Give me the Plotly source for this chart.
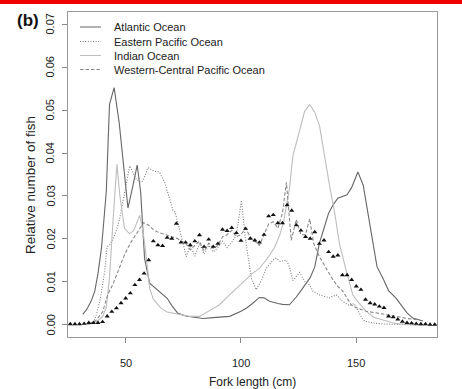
import plotly.graph_objects as go

# Length-frequency curves by ocean (fork length in cm, relative number of fish)
atl_x = [31.4, 33, 35, 36.6, 38, 39.5, 40.5, 41.6, 43, 45, 47.2, 48.7, 51, 53, 55, 56.5, 58.2, 60.4,
         63, 65, 68, 70, 72.5, 76, 80, 83.5, 88, 95.1, 100, 102.3, 105, 108, 110, 112.4, 116, 118,
         121, 124, 126, 128, 130, 132, 134, 136, 138, 140, 142, 144, 146, 148, 150.7, 153, 155, 157,
         159, 161.5, 164, 167.3, 170, 172, 174.5, 176.5, 178.9]
atl_y = [0.0025, 0.0035, 0.0055, 0.0078, 0.012, 0.0178, 0.024, 0.031, 0.0513, 0.0552, 0.047, 0.0393,
         0.0272, 0.032, 0.0372, 0.031, 0.0155, 0.0097, 0.0085, 0.0078, 0.0062, 0.0045, 0.0028, 0.0021,
         0.0017, 0.0015, 0.0017, 0.002, 0.0032, 0.0039, 0.005, 0.0064, 0.0063, 0.0055, 0.005, 0.0048,
         0.0047, 0.0065, 0.008, 0.0095, 0.011, 0.0135, 0.019, 0.0225, 0.026, 0.028, 0.0295, 0.0299,
         0.0303, 0.032, 0.0356, 0.0325, 0.026, 0.019, 0.0135, 0.0109, 0.008, 0.0062, 0.0042, 0.0028,
         0.0016, 0.0012, 0.0009]

ep_x = [36, 37.3, 39, 40.9, 41.9, 43, 44.5, 46, 47.4, 48.7, 49.6, 51.7, 53, 54.5, 56.1, 57.5, 59.7,
        61.8, 64.7, 66.9, 69.1, 70.5, 71.5, 72.7, 74, 75.6, 76.3, 78, 80, 82, 84, 86, 88, 90, 92, 94,
        96, 98, 100.2, 101.9, 104.5, 106.6, 109, 111, 113.9, 115.3, 117, 119.7, 121, 122.5, 125.4,
        128, 129.8, 131.2, 134, 138.4, 141.3, 144, 147.1, 149, 150.5, 152.9, 154.3, 158, 163, 170, 177]
ep_y = [0.0005, 0.0024, 0.006, 0.0124, 0.0182, 0.0185, 0.020, 0.022, 0.0247, 0.029, 0.0309, 0.037,
        0.0355, 0.034, 0.0332, 0.0335, 0.0366, 0.0359, 0.0355, 0.0332, 0.0293, 0.0266, 0.0262, 0.0236,
        0.021, 0.0178, 0.0159, 0.0185, 0.016, 0.019, 0.0165, 0.0185, 0.017, 0.018, 0.0195, 0.018,
        0.0192, 0.021, 0.029, 0.0201, 0.0109, 0.0082, 0.0105, 0.0132, 0.0151, 0.0155, 0.0148, 0.0151,
        0.0135, 0.0103, 0.0122, 0.0098, 0.0093, 0.0078, 0.007, 0.0063, 0.007, 0.0055, 0.0045, 0.005,
        0.0035, 0.0012, 0.0008, 0.0004, 0.0002, 0.0001, 0.0]

ind_x = [33, 35, 38, 40, 41.6, 43, 44.5, 46.2, 47.5, 49.5, 51.7, 53.5, 56.1, 57.5, 59, 60.4, 62, 65.3,
         68, 72.5, 77.7, 82, 86, 90.7, 94, 98, 102.3, 105, 108.1, 110, 112.4, 114.5, 116.8, 118.5,
         119.7, 121, 122.5, 125.4, 127.6, 129.8, 132, 134.1, 136, 138.4, 140.6, 142.8, 145.7, 148.5,
         150.5, 154.3, 157.5, 161.5, 167.3, 175, 180]
ind_y = [0.0, 0.0003, 0.001, 0.002, 0.004, 0.011, 0.024, 0.0374, 0.030, 0.0225, 0.0212, 0.022, 0.0255,
         0.022, 0.0155, 0.0085, 0.006, 0.0039, 0.003, 0.0025, 0.002, 0.002, 0.0032, 0.0047, 0.0065,
         0.0085, 0.0105, 0.012, 0.0132, 0.0145, 0.0162, 0.018, 0.0209, 0.024, 0.0275, 0.0316, 0.0393,
         0.0455, 0.0497, 0.0513, 0.0495, 0.0462, 0.040, 0.0324, 0.0262, 0.0186, 0.0125, 0.007, 0.0055,
         0.0032, 0.0018, 0.0012, 0.0003, 0.0, 0.0]

wc_x = [34, 37, 40, 42.2, 44.5, 47, 49.5, 52, 55, 57.8, 60, 62, 64, 67, 70, 72.5, 74, 76, 78, 80, 82,
        84, 86, 88, 90, 92, 94, 96, 98, 100, 102, 104, 106, 108, 110, 112, 114, 116, 118, 119.7, 121.8,
        124, 126, 128, 129.8, 131.5, 134, 137.7, 139.9, 142, 144.2, 147.8, 150, 154.3, 158, 163, 167.3,
        172, 177]
wc_y = [0.0002, 0.001, 0.003, 0.007, 0.0095, 0.013, 0.0163, 0.019, 0.0215, 0.0238, 0.0232, 0.0222,
        0.0216, 0.021, 0.0205, 0.0201, 0.0195, 0.019, 0.0175, 0.0185, 0.0195, 0.0172, 0.019, 0.0178,
        0.0185, 0.0205, 0.021, 0.022, 0.0205, 0.021, 0.0225, 0.0205, 0.0195, 0.0185, 0.021, 0.0235,
        0.024, 0.0225, 0.026, 0.0332, 0.0197, 0.0245, 0.021, 0.021, 0.0247, 0.019, 0.0159, 0.0124,
        0.0105, 0.009, 0.0078, 0.0047, 0.004, 0.0032, 0.0028, 0.0024, 0.002, 0.0015, 0.0012]

# Pooled distribution in 2-cm classes (triangles)
pool_x = list(range(26, 186, 2))
pool_y = [0.0002, 0.0002, 0.0002, 0.0003, 0.0005, 0.0005, 0.0005, 0.0007, 0.0020, 0.0031,
          0.0039, 0.0051, 0.0062, 0.0074, 0.0093, 0.0105, 0.0120, 0.0151, 0.0195, 0.0186,
          0.0184, 0.0203, 0.0201, 0.0236, 0.0192, 0.0192, 0.0186, 0.0195, 0.0209, 0.0182,
          0.0199, 0.0182, 0.0189, 0.0222, 0.0219, 0.0226, 0.0214, 0.0196, 0.0224, 0.0201,
          0.0197, 0.0192, 0.0210, 0.0253, 0.0256, 0.0237, 0.0237, 0.0279, 0.0266, 0.0232,
          0.0220, 0.0205, 0.0201, 0.0216, 0.0189, 0.0197, 0.0170, 0.0159, 0.0162, 0.0116,
          0.0116, 0.0105, 0.0090, 0.0082, 0.0059, 0.0051, 0.0048, 0.0043, 0.0040, 0.0020,
          0.0018, 0.0013, 0.0008, 0.0005, 0.0004, 0.0003, 0.0002, 0.0002, 0.0001, 0.0001]

x_ticks = [50, 100, 150]
x_tick_text = ["50", "100", "150"]
y_ticks = [0.00, 0.01, 0.02, 0.03, 0.04, 0.05, 0.06, 0.07]
y_tick_text = ["0.00", "0.01", "0.02", "0.03", "0.04", "0.05", "0.06", "0.07"]

series = [
    ("Atlantic Ocean", atl_x, atl_y, "#666666", "solid"),
    ("Eastern Pacific Ocean", ep_x, ep_y, "#7c7c7c", "1px,1.6px"),
    ("Indian Ocean", ind_x, ind_y, "#bdbdbd", "solid"),
    ("Western-Central Pacific Ocean", wc_x, wc_y, "#888888", "3.5px,2px"),
]

FONT = "Liberation Sans, Arial, Helvetica, sans-serif"
TXT = "#222222"

fig = go.Figure()
for name, xs, ys, col, dash in series:
    fig.add_trace(go.Scatter(x=xs, y=ys, mode="lines", name=name, showlegend=False,
                             line=dict(color=col, width=1.1, dash=dash)))

fig.add_trace(go.Scatter(x=pool_x, y=pool_y, mode="markers", showlegend=False,
                         marker=dict(symbol="triangle-up", size=4.5, color="#111111")))

# Plot area in pixels: left 68, right 437, top 12, bottom 337
L, R, T, B = 68, 437, 12, 337
W, H = R - L, B - T


def px_x(p):
    return (p - L) / W


def px_y(p):
    return (B - p) / H


shapes = []
annotations = []

# Tick labels placed R-style: y labels parallel to the axis
for v, t in zip(y_ticks, y_tick_text):
    annotations.append(dict(text=t, xref="paper", yref="y", x=px_x(50.5), y=v,
                            xanchor="center", yanchor="middle", textangle=-90, showarrow=False,
                            font=dict(family=FONT, size=11, color=TXT)))
for v, t in zip(x_ticks, x_tick_text):
    annotations.append(dict(text=t, xref="x", yref="paper", x=v, y=px_y(363),
                            xanchor="center", yanchor="middle", showarrow=False,
                            font=dict(family=FONT, size=11, color=TXT)))

# Key in the top-left corner of the panel
key_rows = [27, 41.5, 55.5, 69.5]
for (name, xs, ys, col, dash), ry in zip(series, key_rows):
    shapes.append(dict(type="line", xref="paper", yref="paper",
                       x0=px_x(80), x1=px_x(101), y0=px_y(ry), y1=px_y(ry),
                       line=dict(color=col, width=1, dash=dash)))
    annotations.append(dict(text=name, xref="paper", yref="paper", x=px_x(112), y=px_y(ry),
                            xanchor="left", yanchor="middle", showarrow=False,
                            font=dict(family=FONT, size=11, color=TXT)))

# Red strip along the top edge
shapes.append(dict(type="rect", xref="paper", yref="paper", x0=px_x(-5), x1=px_x(470),
                   y0=px_y(4), y1=px_y(-5), fillcolor="#f00000", line=dict(width=0), layer="above"))

annotations.append(dict(text="<b>(b)</b>", xref="paper", yref="paper", x=px_x(28), y=px_y(21),
                        xanchor="center", yanchor="middle", showarrow=False,
                        font=dict(family=FONT, size=17, color="#111111")))
annotations.append(dict(text="Fork length (cm)", xref="paper", yref="paper", x=px_x(253), y=px_y(382),
                        xanchor="center", yanchor="middle", showarrow=False,
                        font=dict(family=FONT, size=12, color=TXT)))
annotations.append(dict(text="Relative number of fish", xref="paper", yref="paper", x=px_x(30),
                        y=px_y(185), xanchor="center", yanchor="middle", textangle=-90,
                        showarrow=False, font=dict(family=FONT, size=13.5, color=TXT)))

fig.update_layout(
    width=462, height=389,
    margin=dict(l=L, r=462 - R, t=T, b=389 - B),
    paper_bgcolor="white", plot_bgcolor="white",
    font=dict(family=FONT, size=11, color=TXT),
    shapes=shapes, annotations=annotations,
    xaxis=dict(range=[25, 185], tickvals=x_ticks, ticks="outside", ticklen=5, tickcolor="#888888",
               showline=True, mirror=True, linecolor="#999999", linewidth=1, showgrid=False,
               zeroline=False, showticklabels=False),
    yaxis=dict(range=[-0.0028, 0.0728], tickvals=y_ticks, ticks="outside",
               ticklen=5, tickcolor="#888888", showline=True, mirror=True,
               linecolor="#999999", linewidth=1, showgrid=False, zeroline=False,
               showticklabels=False),
)

fig.write_html("out.html")
